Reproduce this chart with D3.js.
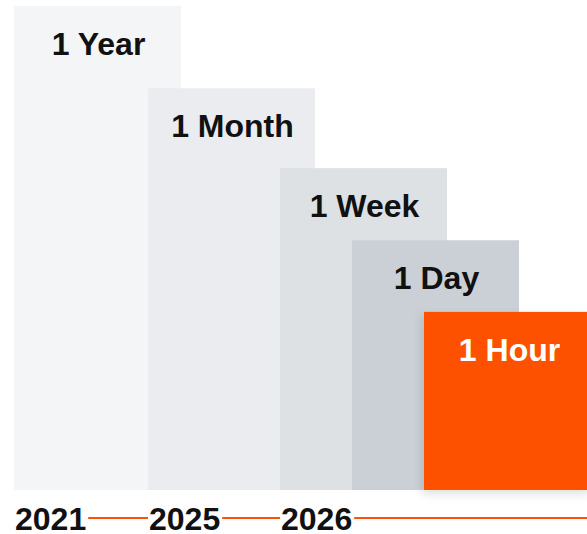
<!DOCTYPE html>
<html>
<head>
    <script src="https://d3js.org/d3.v7.min.js"></script>
    <style>
        body { margin: 0; background: #fff; }
        svg { display: block; }
        .bar-label { font-family: "Liberation Sans", Arial, sans-serif; font-weight: bold; font-size: 32px; text-anchor: middle; }
        .year { font-family: "Liberation Sans", Arial, sans-serif; font-weight: bold; font-size: 32px; fill: #111; }
    </style>
</head>
<body>
<script>
    var w = 587, h = 534;

    // chart data
    var categories = ["1 Year", "1 Month", "1 Week", "1 Day", "1 Hour"];
    var values = [100, 83, 66.5, 51.6, 36.8];
    var barColors = ["#f4f5f7", "#ebecef", "#dee1e4", "#cbd0d6", "#fe5105"];
    var years = ["2021", "2025", "2026"];

    var baseY = 490;
    var barW = 167;

    // bar start positions (non-uniform staircase)
    var x = d3.scaleOrdinal().domain(categories).range([14, 148, 280, 352, 424]);
    var y = d3.scaleLinear().domain([0, 100]).range([baseY, 6]);

    var svg = d3.select("body").append("svg")
        .attr("width", w)
        .attr("height", h);

    var defs = svg.append("defs");
    var f = defs.append("filter").attr("id", "shadow")
        .attr("x", "-20%").attr("y", "-20%").attr("width", "140%").attr("height", "140%");
    f.append("feDropShadow")
        .attr("dx", -2).attr("dy", 4).attr("stdDeviation", 5)
        .attr("flood-color", "#000").attr("flood-opacity", 0.12);

    var data = categories.map(function (c, i) {
        return { name: c, value: values[i], color: barColors[i] };
    });

    var bars = svg.selectAll(".bar")
        .data(data)
        .enter()
        .append("g")
        .attr("class", "bar");

    bars.append("rect")
        .attr("x", function (d) { return x(d.name); })
        .attr("y", function (d) { return y(d.value); })
        .attr("width", barW)
        .attr("height", function (d) { return baseY - y(d.value); })
        .attr("fill", function (d) { return d.color; })
        .attr("filter", function (d, i) { return i === data.length - 1 ? "url(#shadow)" : null; });

    bars.append("text")
        .attr("class", "bar-label")
        .attr("x", function (d, i) { return x(d.name) + barW / 2 + (i === data.length - 1 ? 2 : 1); })
        .attr("y", function (d) { return y(d.value) + 49; })
        .attr("fill", function (d, i) { return i === data.length - 1 ? "#fff" : "#111"; })
        .text(function (d) { return d.name; });

    // year timeline along the bottom
    var yearY = 530;
    var lineY = 518;
    var yearText = svg.selectAll(".year")
        .data(years)
        .enter()
        .append("text")
        .attr("class", "year")
        .attr("x", function (d, i) { return x(categories[i]) + 1; })
        .attr("y", yearY)
        .text(function (d) { return d; });

    var ends = [];
    yearText.each(function (d, i) {
        ends.push({ start: x(categories[i]) + 1, end: x(categories[i]) + 1 + this.getComputedTextLength() });
    });

    var segs = ends.map(function (e, i) {
        return { x1: e.end + 2, x2: i < ends.length - 1 ? ends[i + 1].start - 1 : w };
    });

    svg.selectAll(".seg")
        .data(segs)
        .enter()
        .append("line")
        .attr("class", "seg")
        .attr("x1", function (d) { return d.x1; })
        .attr("x2", function (d) { return d.x2; })
        .attr("y1", lineY)
        .attr("y2", lineY)
        .attr("stroke", "#fe5105")
        .attr("stroke-width", 1.8);
</script>
</body>
</html>
